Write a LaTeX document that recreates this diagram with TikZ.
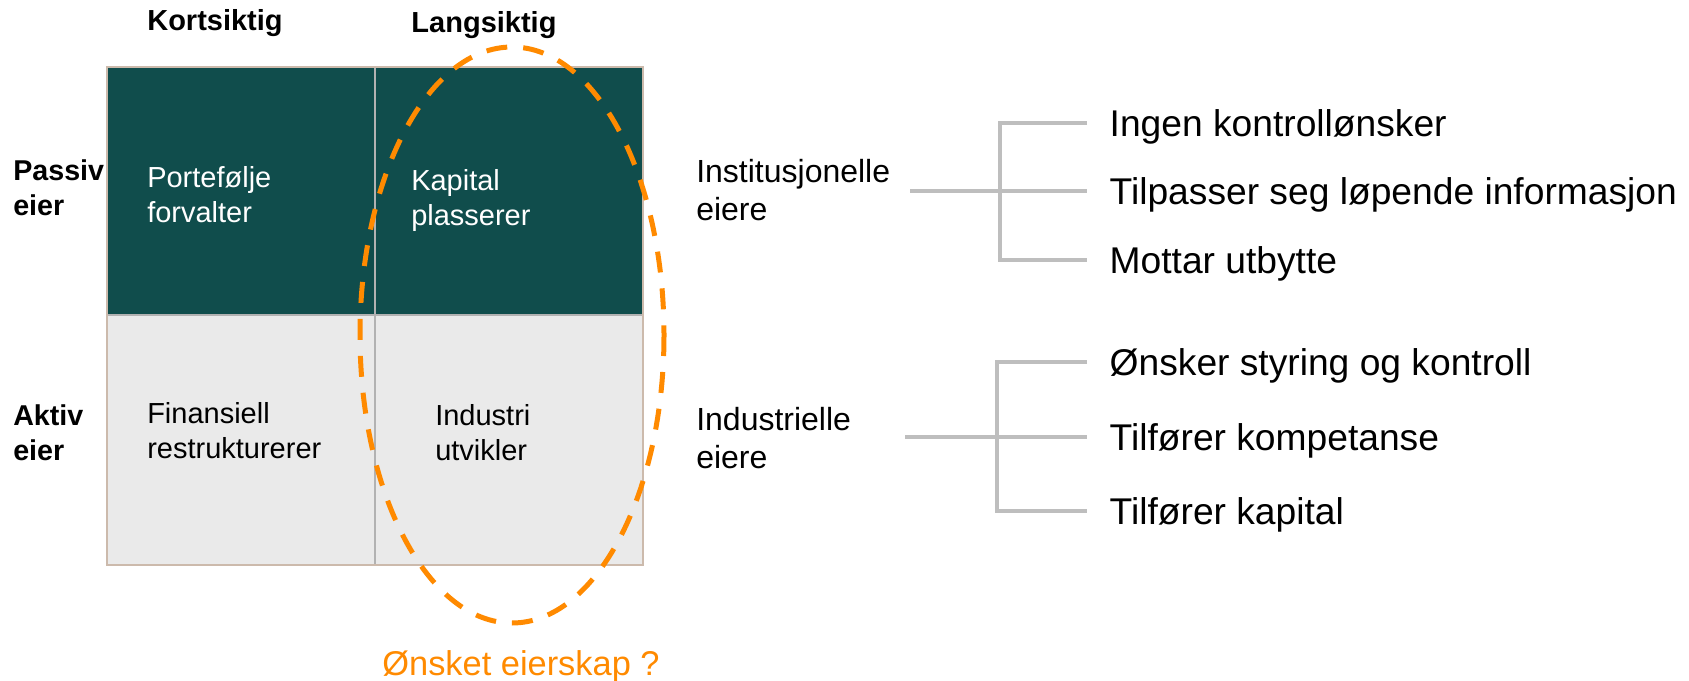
\documentclass[tikz,border=0pt]{standalone}
\usepackage{fontspec}
\setmainfont{Liberation Sans}
\definecolor{dkgreen}{RGB}{16,77,76}
\definecolor{cellgray}{RGB}{234,234,234}
\definecolor{edgetan}{RGB}{204,186,172}
\definecolor{divgray}{RGB}{178,178,178}
\definecolor{treegray}{RGB}{190,190,190}
\definecolor{orng}{RGB}{255,138,0}
\begin{document}
\begin{tikzpicture}[x=0.75pt,y=-0.75pt,
  hdr/.style={font=\fontsize{21.75}{26}\selectfont\bfseries, inner sep=0pt, anchor=base},
  rowlbl/.style={font=\fontsize{21.5}{26.25}\selectfont\bfseries, inner sep=0pt, anchor=base west, align=left},
  celltxt/.style={font=\fontsize{21.75}{26.25}\selectfont, inner sep=0pt, anchor=base west, align=left},
  ownertxt/.style={font=\fontsize{24}{28.5}\selectfont, inner sep=0pt, anchor=base west, align=left},
  item/.style={font=\fontsize{27.9}{33}\selectfont, inner xsep=0pt, inner ysep=0pt, outer xsep=17pt, outer ysep=0pt,
               text height=19.9pt, text depth=0pt, anchor=west},
  tree/.style={draw=treegray, line width=3pt},
  ring/.style={draw=orng, line width=3.75pt, dash pattern=on 15.75pt off 12pt}
]
\useasboundingbox (0,0) rectangle (1689,681);
% grid
\fill[dkgreen] (107,67) rectangle (643,315);
\fill[cellgray] (107,315) rectangle (643,565);
\draw[divgray, line width=2.2pt] (107,315) -- (643,315);
\draw[divgray, line width=1.5pt] (375,67) -- (375,565);
\draw[edgetan, line width=2pt] (107,67) rectangle (643,565);
% headers
\node[hdr] (kort) at (215,31) {Kortsiktig};
\node[hdr] (lang) at (484,33) {Langsiktig};
\node[rowlbl] (passiv) at (13,215) {Passiv\\eier};
\node[rowlbl] (aktiv) at (13,460) {Aktiv\\eier};
% cells
\node[celltxt, text=white] (port) at (147,223) {Portefølje\\forvalter};
\node[celltxt, text=white] (kap) at (411,225) {Kapital\\plasserer};
\node[celltxt] (fin) at (147,458) {Finansiell\\restrukturerer};
\node[celltxt] (ind) at (435,460) {Industri\\utvikler};
% ellipse
\draw[ring] (512,335) ellipse [x radius=152, y radius=288];
\node[font=\fontsize{25.8}{30}\selectfont, text=orng, inner sep=0pt, anchor=base] (onsket) at (521,675) {Ønsket eierskap ?};
% owner types
\node[ownertxt] (inst) at (696,221) {Institusjonelle\\eiere};
\node[ownertxt] (indu) at (696,468) {Industrielle\\eiere};
% top tree
\coordinate (s1) at (910,191);
\coordinate (t1) at (1000,123);
\coordinate (b1) at (1000,260);
\node[item] (i1) at (1087,123) {Ingen kontrollønsker};
\node[item] (i2) at (1087,191) {Tilpasser seg løpende informasjon};
\node[item] (i3) at (1087,260) {Mottar utbytte};
\draw[tree] (s1) -- (i2.west);
\draw[tree] (i1.west) -- (t1) -- (b1) -- (i3.west);
% bottom tree
\coordinate (s2) at (905,437);
\coordinate (t2) at (997,362);
\coordinate (b2) at (997,511);
\node[item] (k1) at (1087,362) {Ønsker styring og kontroll};
\node[item] (k2) at (1087,437) {Tilfører kompetanse};
\node[item] (k3) at (1087,511) {Tilfører kapital};
\draw[tree] (s2) -- (k2.west);
\draw[tree] (k1.west) -- (t2) -- (b2) -- (k3.west);
\end{tikzpicture}
\end{document}
